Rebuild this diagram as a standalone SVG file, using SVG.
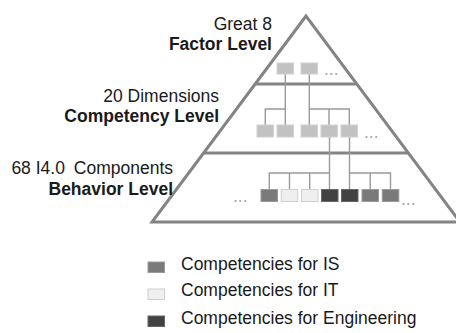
<svg xmlns="http://www.w3.org/2000/svg" width="456" height="333" viewBox="0 0 456 333">
  <style>
    text { font-family: "Liberation Sans", Arial, sans-serif; font-size: 17.5px; fill: #1a1a1a; }
    .b { font-weight: bold; }
    .r { text-anchor: end; }
    .dots { fill: #a8a8a8; }
    .frame { fill: none; stroke: #848484; stroke-width: 3; stroke-linejoin: miter; }
    .tier { stroke: #848484; stroke-width: 3; }
    .link { fill: none; stroke: #9a9a9a; stroke-width: 1.4; }
    .grp { fill: #c2c2c2; stroke: #d2d2d2; stroke-width: 1; }
    .is { fill: #7a7a7a; stroke: #9a9a9a; stroke-width: 1; }
    .it { fill: #efefef; stroke: #cfcfcf; stroke-width: 1; }
    .eng { fill: #424242; stroke: #666; stroke-width: 1; }
  </style>

  <!-- pyramid outline and tier dividers -->
  <g id="pyramid">
    <polygon class="frame" points="306,16 152,222 460,222"/>
    <line class="tier" x1="255" y1="84" x2="357" y2="84"/>
    <line class="tier" x1="204" y1="153" x2="408" y2="153"/>
  </g>

  <!-- tier labels -->
  <g id="label-factor">
    <text class="r" x="272" y="30">Great 8</text>
    <text class="r b" x="272" y="50">Factor Level</text>
  </g>
  <g id="label-competency">
    <text class="r" x="219" y="102">20 Dimensions</text>
    <text class="r b" x="219" y="121.5">Competency Level</text>
  </g>
  <g id="label-behavior">
    <text class="r" x="173" y="174">68 I4.0 <tspan dx="4">Components</tspan></text>
    <text class="r b" x="173" y="195">Behavior Level</text>
  </g>

  <!-- tree connectors -->
  <g id="connectors">
    <path class="link" d="M285.3,74 V125 M265.3,125 V109 H285.3"/>
    <path class="link" d="M309.3,74 V125 M309.3,109 H349.3 V125 M329,109 V125"/>
    <path class="link" d="M329.5,137 V189.5 M269.3,189.5 V173 H329.5 M289.5,173 V189.5 M309.7,173 V189.5"/>
    <path class="link" d="M349.5,137 V189.5 M349.5,173 H390.5 V189.5 M370.2,173 V189.5"/>
  </g>

  <!-- factor level nodes -->
  <g id="factor-1"><rect class="grp" x="277" y="63" width="16.5" height="11"/></g>
  <g id="factor-2"><rect class="grp" x="301" y="63" width="16.5" height="11"/></g>
  <g id="factor-more"><text class="dots" x="324" y="75">...</text></g>

  <!-- competency level nodes -->
  <g id="competency-1"><rect class="grp" x="257" y="125" width="16.5" height="12"/></g>
  <g id="competency-2"><rect class="grp" x="277" y="125" width="16.5" height="12"/></g>
  <g id="competency-3"><rect class="grp" x="301" y="125" width="16.5" height="12"/></g>
  <g id="competency-4"><rect class="grp" x="321" y="125" width="16.5" height="12"/></g>
  <g id="competency-5"><rect class="grp" x="341" y="125" width="16.5" height="12"/></g>
  <g id="competency-more"><text class="dots" x="364" y="138">...</text></g>

  <!-- behavior level nodes -->
  <g id="behavior-more-left"><text class="dots" x="233" y="202">...</text></g>
  <g id="behavior-1"><rect class="is" x="261" y="189.5" width="16.5" height="12"/></g>
  <g id="behavior-2"><rect class="it" x="281.2" y="189.5" width="16.5" height="12"/></g>
  <g id="behavior-3"><rect class="it" x="301.5" y="189.5" width="16.5" height="12"/></g>
  <g id="behavior-4"><rect class="eng" x="321.5" y="189.5" width="16.5" height="12"/></g>
  <g id="behavior-5"><rect class="eng" x="341.5" y="189.5" width="16.5" height="12"/></g>
  <g id="behavior-6"><rect class="is" x="362" y="189.5" width="16.5" height="12"/></g>
  <g id="behavior-7"><rect class="is" x="382.3" y="189.5" width="16.5" height="12"/></g>
  <g id="behavior-more-right"><text class="dots" x="401" y="205">...</text></g>

  <!-- legend -->
  <g id="legend">
    <rect class="is" x="148" y="262" width="16.5" height="10.5"/>
    <text x="181" y="269.5">Competencies for IS</text>
    <rect class="it" x="148" y="289" width="16.5" height="10.5"/>
    <text x="181" y="296">Competencies for IT</text>
    <rect class="eng" x="148" y="316" width="16.5" height="10.5"/>
    <text x="181" y="324">Competencies for Engineering</text>
  </g>
</svg>
